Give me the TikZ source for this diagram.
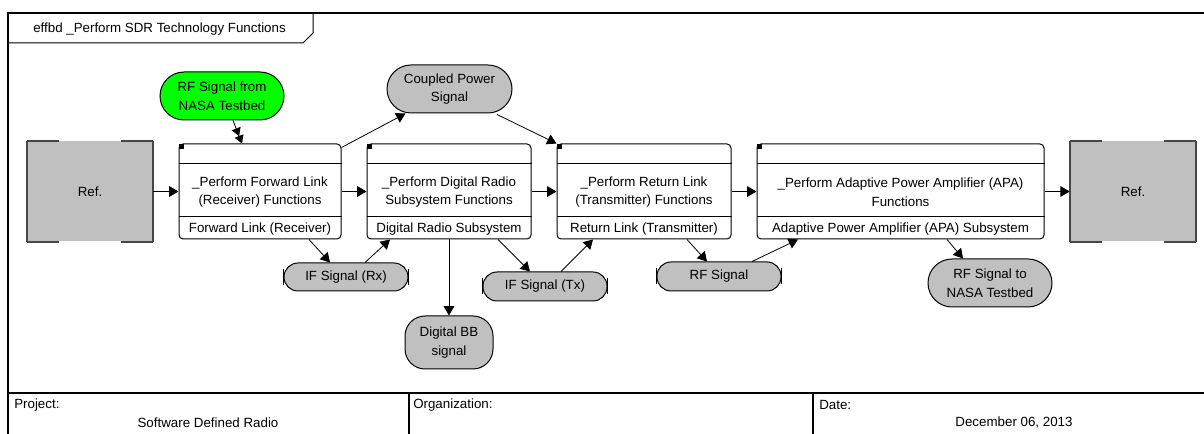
\documentclass[tikz,border=0pt]{standalone}
\usepackage{fontspec}
\setmainfont{Liberation Sans}
\usetikzlibrary{arrows.meta,calc}
\definecolor{itemgray}{RGB}{192,192,192}
\definecolor{refedge}{RGB}{70,70,70}
\definecolor{triggergreen}{RGB}{0,255,0}
\tikzset{
	frame/.style={line width=1.5pt},
	thinline/.style={line width=0.75pt},
	lbl/.style={inner sep=0pt},
	flow/.style={-{Triangle[length=7pt,width=8pt]}, line width=0.6pt},
	dblflow/.style={-{Triangle[length=6pt,width=7pt]Triangle[length=6pt,width=7pt]}, line width=0.6pt},
	func/.style={draw, rectangle, rounded corners=3pt, minimum height=95*0.75pt, inner sep=0pt, line width=0.75pt},
	functext/.style={align=center, inner sep=0pt},
	item/.style={draw, fill=itemgray, align=center, inner sep=0pt, line width=0.75pt},
	refbox/.style={fill=itemgray, minimum width=126*0.75pt, minimum height=100*0.75pt, inner sep=0pt},
	refline/.style={draw=refedge, line width=1.2pt}
}
\def\funcblock(#1)(#2,#3)(#4)#5#6{
	\node[func, minimum width=#4*0.75pt] (#1) at (#2,#3) {};
	\draw[thinline] ($(#1.north west)+(0,20)$) -- ($(#1.north east)+(0,20)$);
	\draw[thinline] ($(#1.south west)+(0,-23)$) -- ($(#1.south east)+(0,-23)$);
	\fill ($(#1.north west)+(0.5,0.5)$) rectangle +(5,5);
	\node[functext] (#1-name) at ($(#1.center)+(0,0.5)$) {#5};
	\node[functext] (#1-unit) at ($(#1.south)+(0,-10)$) {#6};
}
\def\refblock(#1)(#2,#3){
	\node[refbox] (#1) at (#2,#3) {Ref.};
	\draw[refline] (#1.north west) -- (#1.south west);
	\draw[refline] (#1.north east) -- (#1.south east);
	\draw[refline] (#1.north west) -- +(32,0);
	\draw[refline] (#1.north east) -- +(-32,0);
	\draw[refline] (#1.south west) -- +(32,0);
	\draw[refline] (#1.south east) -- +(-32,0);
}
\def\queuebars(#1){
	\draw[thinline] ($(#1.west)+(0,-8)$) -- ($(#1.west)+(0,8)$);
	\draw[thinline] ($(#1.east)+(0,-8)$) -- ($(#1.east)+(0,8)$);
}

\begin{document}
\begin{tikzpicture}[x=0.75pt, y=-0.75pt, font=\fontsize{10}{14}\selectfont]
	\useasboundingbox (0,0) rectangle (1204,434);

	\draw[frame] (8,436) -- (8,13) -- (1206,13);
	\draw[thinline] (8,43) -- (303,43) -- (313,33) -- (313,13);
	\node[lbl, anchor=west] (title) at (33,29) {effbd \_Perform SDR Technology Functions};

	\refblock(refin)(90,191.5)
	\funcblock(fwd)(260,191.5)(162){\_Perform Forward Link\\(Receiver) Functions}{Forward Link (Receiver)}
	\funcblock(dig)(449,191.5)(164){\_Perform Digital Radio\\Subsystem Functions}{Digital Radio Subsystem}
	\funcblock(ret)(644,191.5)(174){\_Perform Return Link\\(Transmitter) Functions}{Return Link (Transmitter)}
	\funcblock(apa)(900.5,191.5)(287){\_Perform Adaptive Power Amplifier (APA)\\Functions}{Adaptive Power Amplifier (APA) Subsystem}
	\refblock(refout)(1133,191.5)

	\node[item, fill=triggergreen, minimum width=124*0.75pt, minimum height=48*0.75pt, rounded corners=18pt] (rfin) at (222,96) {RF Signal from\\NASA Testbed};
	\node[item, minimum width=125*0.75pt, minimum height=48*0.75pt, rounded corners=18pt] (coupled) at (449.5,89) {Coupled Power\\Signal};
	\node[item, minimum width=124*0.75pt, minimum height=28*0.75pt, rounded corners=10.5pt] (ifrx) at (346,277) {IF Signal (Rx)};
	\node[item, minimum width=124*0.75pt, minimum height=29*0.75pt, rounded corners=10.5pt] (iftx) at (545,286.5) {IF Signal (Tx)};
	\node[item, minimum width=124*0.75pt, minimum height=29*0.75pt, rounded corners=10.5pt] (rfsig) at (719,276.5) {RF Signal};
	\node[item, minimum width=88*0.75pt, minimum height=53*0.75pt, rounded corners=15pt] (bb) at (449,342.5) {Digital BB\\signal};
	\node[item, minimum width=124*0.75pt, minimum height=48*0.75pt, rounded corners=18pt] (rfout) at (990,283) {RF Signal to\\NASA Testbed};
	\queuebars(ifrx)
	\queuebars(iftx)
	\queuebars(rfsig)

	\draw[flow] (refin.east) -- (fwd.west);
	\draw[flow] (fwd.east) -- (dig.west);
	\draw[flow] (dig.east) -- (ret.west);
	\draw[flow] (ret.east) -- (apa.west);
	\draw[flow] (apa.east) -- (refout.west);

	\draw[dblflow] ($(rfin.south)+(11,0)$) -- ($(fwd.north)+(-18,0)$);
	\draw[flow] ($(fwd.north east)+(0,4)$) -- ($(coupled.south)+(-44,0)$);
	\draw[flow] ($(coupled.south)+(47.5,1)$) -- (ret.north west);
	\draw[flow] ($(fwd.south)+(49,0)$) -- ($(ifrx.north)+(-16,0)$);
	\draw[flow] ($(ifrx.north)+(19,0)$) -- ($(dig.south)+(-59,0)$);
	\draw[flow] (dig.south) -- (bb.north);
	\draw[flow] ($(dig.south)+(49,0)$) -- ($(iftx.north)+(-15,0)$);
	\draw[flow] ($(iftx.north)+(16,0)$) -- ($(ret.south)+(-51,0)$);
	\draw[flow] ($(ret.south)+(43,0)$) -- ($(rfsig.north)+(-12,0)$);
	\draw[flow] ($(rfsig.north)+(33,0)$) -- ($(apa.south)+(-102.5,0)$);
	\draw[flow] ($(apa.south)+(46.5,0)$) -- ($(rfout.north)+(-27,0)$);

	\draw[frame] (8,393) -- (1206,393);
	\draw[frame] (409,393) -- (409,436);
	\draw[frame] (813,393) -- (813,436);
	\node[lbl, anchor=west] (project) at (14,405) {Project:};
	\node[lbl] (projname) at (208,423) {Software Defined Radio};
	\node[lbl, anchor=west] (org) at (413,405) {Organization:};
	\node[lbl, anchor=west] (date) at (819,405) {Date:};
	\node[lbl] (dateval) at (1014,423) {December 06, 2013};
\end{tikzpicture}
\end{document}
